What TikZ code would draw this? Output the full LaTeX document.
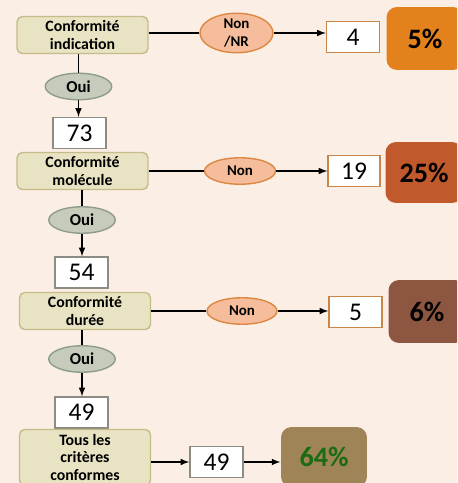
\documentclass[tikz,border=0pt]{standalone}
\usepackage{fontspec}
\setmainfont{Carlito}
\usetikzlibrary{shapes.geometric}

\definecolor{fond}{HTML}{FBEEE4}
\definecolor{critfond}{HTML}{E8E3C3}
\definecolor{critbord}{HTML}{C6BB8A}
\definecolor{ouifond}{HTML}{C6CBBC}
\definecolor{ouibord}{HTML}{8E9C8C}
\definecolor{nonfond}{HTML}{F5BD9C}
\definecolor{nonbord}{HTML}{DC8844}
\definecolor{nbord}{HTML}{C8864A}
\definecolor{gbord}{HTML}{8C8C84}
\definecolor{pcA}{HTML}{E3821C}
\definecolor{pcB}{HTML}{C05A2C}
\definecolor{pcC}{HTML}{8C5640}
\definecolor{pcD}{HTML}{9F8458}
\definecolor{vert}{HTML}{1B6B12}

\begin{document}
\begin{tikzpicture}[x=0.02cm, y=-0.02cm, line width=0.7pt,
	critere/.style={draw=critbord, fill=critfond, thick, rounded corners=3pt, minimum width=2.62cm, minimum height=0.74cm, inner sep=1pt, align=center, font=\bfseries\fontsize{9}{10.5}\selectfont},
	oui/.style={ellipse, draw=ouibord, fill=ouifond, thick, minimum width=1.33cm, minimum height=0.53cm, inner sep=0pt, font=\bfseries\fontsize{9.5}{10}\selectfont},
	non/.style={ellipse, draw=nonbord, fill=nonfond, thick, minimum width=1.42cm, minimum height=0.53cm, inner sep=0pt, align=center, font=\bfseries\fontsize{8.5}{10}\selectfont},
	nombre/.style={draw=nbord, fill=white, thick, minimum width=1.06cm, minimum height=0.62cm, inner sep=0pt, font=\fontsize{14.5}{16}\selectfont},
	total/.style={nombre, draw=gbord},
	pourcent/.style={rounded corners=6pt, minimum width=1.54cm, minimum height=1.26cm, inner sep=0pt, font=\bfseries\fontsize{16}{18}\selectfont}
]

	\clip (0,0) rectangle (457,483);
	\fill[fond] (0,0) rectangle (457,483);

	% indication
	\node[critere] (ind) at (82.5,35) {Conformité\\indication};
	\node[non, minimum width=1.46cm, minimum height=0.72cm] (nonA) at (236.5,33) {Non\\/NR};
	\node[nombre] (n4) at (353,37) {4};
	\node[pourcent, fill=pcA] (pA) at (425,38.5) {5\%};
	\node[oui] (ouiA) at (78.5,86.5) {Oui};
	\node[total] (n73) at (79.5,133) {73};

	% molecule
	\node[critere] (mol) at (82.5,171) {Conformité\\molécule};
	\node[non] (nonB) at (240,171) {Non};
	\node[nombre, minimum width=1.04cm] (n19) at (354,171) {19};
	\node[pourcent, fill=pcB, minimum height=1.22cm] (pB) at (424,172.5) {25\%};
	\node[oui] (ouiB) at (82,220) {Oui};
	\node[total] (n54) at (81.5,272.5) {54};

	% duree
	\node[critere] (dur) at (85,311) {Conformité\\durée};
	\node[non, minimum width=1.4cm] (nonC) at (242,311) {Non};
	\node[nombre] (n5) at (355.5,312) {5};
	\node[pourcent, fill=pcC] (pC) at (427,311.5) {6\%};
	\node[oui] (ouiC) at (82,359) {Oui};
	\node[total] (n49) at (81.5,412.5) {49};

	% tous
	\node[critere, minimum height=1.12cm, font=\bfseries\fontsize{9}{10}\selectfont] (tous) at (85,457.5) {Tous les\\critères\\conformes};
	\node[total] (n49b) at (216.5,462) {49};
	\node[pourcent, fill=pcD, text=vert, minimum width=1.72cm, minimum height=1.2cm] (pD) at (324,457) {64\%};

	\draw (ind.east |- nonA) -- (nonA);
	\draw[-latex] (nonA) -- (n4.west |- nonA);
	\draw (mol) -- (nonB);
	\draw[-latex] (nonB) -- (n19);
	\draw (dur.east |- nonC) -- (nonC);
	\draw[-latex] (nonC.east) -- (n5.west |- nonC);

	\draw (ouiA.north |- ind.south) -- (ouiA);
	\draw[-latex] (ouiA) -- (n73.north -| ouiA);
	\draw (ouiB.north |- mol.south) -- (ouiB);
	\draw[-latex] (ouiB) -- (n54.north -| ouiB);
	\draw (ouiC.north |- dur.south) -- (ouiC);
	\draw[-latex] (ouiC) -- (n49.north -| ouiC);

	\draw[-latex] (tous.east |- n49b) -- (n49b);
	\draw[-latex] (n49b) -- (pD.west |- n49b);

\end{tikzpicture}
\end{document}
